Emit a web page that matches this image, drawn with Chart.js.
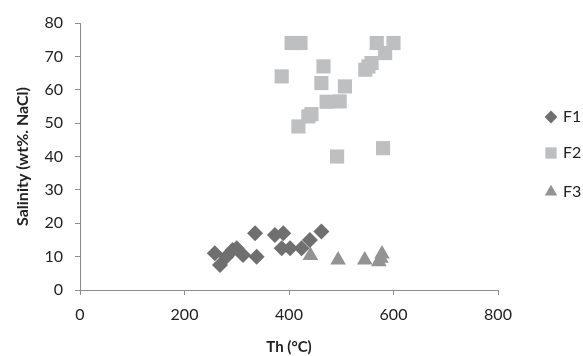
<!DOCTYPE html>
<html>
<head>
<meta charset="utf-8">
<script src="https://cdn.jsdelivr.net/npm/chart.js@4.4.1/dist/chart.umd.min.js"></script>
<style>
  html, body { margin: 0; padding: 0; background: #fff; }
  #wrap { width: 583px; height: 356px; }
</style>
</head>
<body>
<div id="wrap"><canvas id="grafica"></canvas></div>
<script>
// Th (°C) / salinity pairs
const thF1 = [258, 268, 280, 292, 300, 312, 335, 338, 373, 386, 389, 402, 424, 440, 462];
const salF1 = [11, 7.5, 10, 12, 12.5, 10.5, 17, 10, 16.5, 12.5, 17, 12.5, 12.5, 15, 17.5];

const thF2 = [386, 405, 422, 418, 437, 443, 462, 466, 472, 492, 497, 507, 546, 552, 558, 568, 580, 584, 600];
const salF2 = [64, 74, 74, 49, 52, 52.7, 62, 67, 56.4, 40, 56.5, 61, 66, 67, 68, 74, 42.5, 71, 74];

const thF3 = [441, 494, 545, 572, 576, 578];
const salF3 = [10.3, 9, 9, 8.5, 9.5, 10.8];

const xTicks = [0, 200, 400, 600, 800];
const yTicks = [0, 10, 20, 30, 40, 50, 60, 70, 80];

const puntos = (xs, ys) => xs.map((x, i) => ({ x: x, y: ys[i] }));

const fuente = "Lato, 'Open Sans', sans-serif";
const gris = '#8c8c8c';
const texto = '#222222';

// leyenda a la derecha, dibujada con los estilos de cada dataset
const leyenda = {
    id: 'leyendaDerecha',
    afterDraw(chart) {
        const ctx = chart.ctx;
        const filas = [117, 153, 192];
        chart.data.datasets.forEach((ds, i) => {
            const y = filas[i];
            ctx.save();
            ctx.fillStyle = ds.backgroundColor;
            ctx.strokeStyle = ds.borderColor;
            ctx.lineWidth = 0;
            Chart.helpers.drawPoint(ctx, { pointStyle: ds.pointStyle, radius: ds.pointRadius * 0.8, borderWidth: 0 }, 551, y);
            ctx.fillStyle = texto;
            ctx.font = '16px ' + fuente;
            ctx.textBaseline = 'middle';
            ctx.textAlign = 'left';
            ctx.fillText(ds.label, 563, y);
            ctx.restore();
        });
    }
};

new Chart(document.querySelector('#grafica'), {
    type: 'scatter',
    data: {
        datasets: [
            {
                label: 'F1',
                data: puntos(thF1, salF1),
                pointStyle: 'rectRot',
                pointRadius: 8,
                backgroundColor: '#6f6f6f',
                borderColor: '#6f6f6f',
                borderWidth: 0
            },
            {
                label: 'F2',
                data: puntos(thF2, salF2),
                pointStyle: 'rect',
                pointRadius: 10,
                backgroundColor: '#bebfc1',
                borderColor: '#bebfc1',
                borderWidth: 0
            },
            {
                label: 'F3',
                data: puntos(thF3, salF3),
                pointStyle: 'triangle',
                pointRadius: 9,
                backgroundColor: '#939393',
                borderColor: '#939393',
                borderWidth: 0
            }
        ]
    },
    plugins: [leyenda],
    options: {
        responsive: true,
        maintainAspectRatio: false,
        animation: false,
        layout: { padding: { top: 23, right: 85, bottom: 0, left: 13 } },
        plugins: {
            tooltip: { enabled: false },
            legend: { display: false }
        },
        scales: {
            x: {
                type: 'linear',
                min: 0,
                max: 800,
                afterBuildTicks: (s) => { s.ticks = xTicks.map(v => ({ value: v })); },
                afterFit: (s) => { s.height = 66; },
                ticks: { color: texto, font: { family: fuente, size: 16 }, padding: 10 },
                grid: { drawOnChartArea: false, drawTicks: true, tickLength: 5, color: gris },
                border: { color: gris, width: 1 },
                title: { display: true, text: 'Th (°C)', color: texto, font: { family: fuente, size: 15, weight: 'bold' }, padding: { top: 2, bottom: 0 } }
            },
            y: {
                type: 'linear',
                min: 0,
                max: 80,
                afterBuildTicks: (s) => { s.ticks = yTicks.map(v => ({ value: v })); },
                afterFit: (s) => { s.width = 67; },
                ticks: { color: texto, font: { family: fuente, size: 16 }, padding: 12 },
                grid: { drawOnChartArea: false, drawTicks: true, tickLength: 5, color: gris },
                border: { color: gris, width: 1 },
                title: { display: true, text: 'Salinity (wt%. NaCl)', color: texto, font: { family: fuente, size: 16, weight: 'bold' }, padding: { top: 0, bottom: 4 } }
            }
        }
    }
});
</script>
</body>
</html>
